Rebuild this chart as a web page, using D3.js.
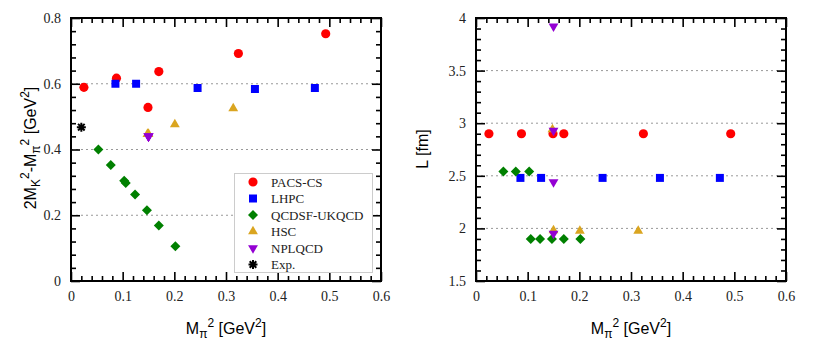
<!DOCTYPE html>
<html>
<head>
<meta charset="utf-8">
<script src="https://cdn.jsdelivr.net/npm/d3@7"></script>
<style>
  body { margin: 0; background: #fff; }
  svg { display: block; }
</style>
</head>
<body>
<div id="chart"></div>
<script>
// legend names and colours
let groups = ['PACS-CS', 'LHPC', 'QCDSF-UKQCD', 'HSC', 'NPLQCD', 'Exp.']
let colors = ['#ff0000', '#0000ff', '#008000', '#daa520', '#9400d3', '#000000']
let shapes = ['circle', 'square', 'diamond', 'triangle', 'tridown', 'star']

// M_pi^2 [GeV^2]
let pacsM2 = [0.025, 0.088, 0.149, 0.170, 0.324, 0.493]
let lhpcM2 = [0.086, 0.126, 0.245, 0.356, 0.472]
let qcdsfM2 = [0.053, 0.077, 0.103, 0.106, 0.124, 0.147, 0.170, 0.202]
let hscM2 = [0.148, 0.150, 0.201, 0.314]
let nplM2 = [0.150, 0.150, 0.150, 0.150]
let expM2 = [0.020]

// 2M_K^2 - M_pi^2 [GeV^2]
let pacsK = [0.589, 0.617, 0.528, 0.637, 0.692, 0.752]
let lhpcK = [0.600, 0.600, 0.587, 0.584, 0.587]
let qcdsfK = [0.400, 0.353, 0.305, 0.298, 0.263, 0.215, 0.169, 0.106]
let hscK = [0.447, 0.447, 0.476, 0.525]
let nplK = [0.440, 0.440, 0.440, 0.440]
let expK = [0.468]

// L [fm]
let pacsL = [2.90, 2.90, 2.90, 2.90, 2.90, 2.90]
let lhpcL = [2.48, 2.48, 2.48, 2.48, 2.48]
let qcdsfL = [2.54, 2.54, 2.54, 1.90, 1.90, 1.90, 1.90, 1.90]
let hscL = [2.94, 1.98, 1.975, 1.975]
let nplL = [3.92, 2.93, 2.44, 1.95]

let xTicks = [0, 0.1, 0.2, 0.3, 0.4, 0.5, 0.6]
let leftTicks = [0, 0.2, 0.4, 0.6, 0.8]
let rightTicks = [1.5, 2, 2.5, 3, 3.5, 4]

let serif = '"Liberation Serif", "Times New Roman", Times, serif'
let sans = '"Liberation Sans", Arial, Helvetica, sans-serif'

function zip(xs, ys){
	return xs.map(function(v, i){ return {x: v, y: ys[i]} })
}

let leftSeries = [
	zip(pacsM2, pacsK), zip(lhpcM2, lhpcK), zip(qcdsfM2, qcdsfK),
	zip(hscM2, hscK), zip(nplM2, nplK), zip(expM2, expK)
]
let rightSeries = [
	zip(pacsM2, pacsL), zip(lhpcM2, lhpcL), zip(qcdsfM2, qcdsfL),
	zip(hscM2, hscL), zip(nplM2, nplL), []
]

let svg = d3.select('#chart').append('svg')
	.attr('width', 817)
	.attr('height', 354)

function symbolPath(shape){
	if(shape == 'circle') return d3.symbol(d3.symbolCircle, 66)()
	if(shape == 'square') return d3.symbol(d3.symbolSquare, 64)()
	if(shape == 'diamond') return d3.symbol(d3.symbolSquare, 50)()
	if(shape == 'triangle' || shape == 'tridown') return d3.symbol(d3.symbolTriangle, 42)()
	// gnuplot style star: plus and cross
	let r = 4.5, d = 3.3
	return 'M' + (-r) + ',0L' + r + ',0M0,' + (-r) + 'L0,' + r +
		'M' + (-d) + ',' + (-d) + 'L' + d + ',' + d + 'M' + (-d) + ',' + d + 'L' + d + ',' + (-d)
}

function drawMarker(g, shape, color, px, py){
	let rot = 0
	if(shape == 'diamond') rot = 45
	if(shape == 'tridown') rot = 180
	let p = g.append('path')
		.attr('d', symbolPath(shape))
		.attr('transform', 'translate(' + px + ',' + py + ') rotate(' + rot + ')')
	if(shape == 'star'){
		p.attr('fill', 'none').attr('stroke', color).attr('stroke-width', 2)
	} else {
		p.attr('fill', color)
	}
}

function minorTicks(lo, hi, step, majors){
	return d3.range(lo, hi + step / 2, step).filter(function(v){
		return !majors.some(function(m){ return Math.abs(m - v) < 1e-6 })
	})
}

function drawPanel(cfg){
	let x = d3.scaleLinear().domain([0, 0.6]).range([cfg.left, cfg.right])
	let y = d3.scaleLinear().domain(cfg.yDomain).range([cfg.bottom, cfg.top])
	let g = svg.append('g')

	// dotted grid
	g.selectAll('.grid')
		.data(cfg.yTicks.filter(function(v){ return v > cfg.yDomain[0] && v < cfg.yDomain[1] }))
		.enter().append('line')
		.attr('x1', cfg.left).attr('x2', cfg.right)
		.attr('y1', function(d){ return y(d) }).attr('y2', function(d){ return y(d) })
		.attr('stroke', '#999')
		.attr('stroke-width', 1)
		.attr('stroke-dasharray', '2,3')

	let xMinor = minorTicks(0, 0.6, 0.02, xTicks)
	let yMinor = minorTicks(cfg.yDomain[0], cfg.yDomain[1], cfg.yMinorStep, cfg.yTicks)
	let fmt = d3.format('')

	let axes = [
		{a: d3.axisBottom(x).tickValues(xTicks).tickSize(-9).tickPadding(10).tickFormat(fmt), t: 'translate(0,' + cfg.bottom + ')'},
		{a: d3.axisBottom(x).tickValues(xMinor).tickSize(-5).tickFormat(''), t: 'translate(0,' + cfg.bottom + ')'},
		{a: d3.axisTop(x).tickValues(xTicks).tickSize(-9).tickFormat(''), t: 'translate(0,' + cfg.top + ')'},
		{a: d3.axisTop(x).tickValues(xMinor).tickSize(-5).tickFormat(''), t: 'translate(0,' + cfg.top + ')'},
		{a: d3.axisLeft(y).tickValues(cfg.yTicks).tickSize(-9).tickPadding(10).tickFormat(fmt), t: 'translate(' + cfg.left + ',0)'},
		{a: d3.axisLeft(y).tickValues(yMinor).tickSize(-5).tickFormat(''), t: 'translate(' + cfg.left + ',0)'},
		{a: d3.axisRight(y).tickValues(cfg.yTicks).tickSize(-9).tickFormat(''), t: 'translate(' + cfg.right + ',0)'},
		{a: d3.axisRight(y).tickValues(yMinor).tickSize(-5).tickFormat(''), t: 'translate(' + cfg.right + ',0)'}
	]
	axes.forEach(function(ax){
		let ag = g.append('g').attr('transform', ax.t).call(ax.a)
		ag.attr('font-family', null).attr('font-size', null)
		ag.select('.domain').remove()
		ag.selectAll('line').attr('stroke', '#000').attr('stroke-width', 1.6)
		ag.selectAll('text')
			.style('font-family', serif)
			.style('font-size', '14px')
			.attr('fill', '#222')
	})

	// frame
	g.append('rect')
		.attr('x', cfg.left).attr('y', cfg.top)
		.attr('width', cfg.right - cfg.left).attr('height', cfg.bottom - cfg.top)
		.attr('fill', 'none')
		.attr('stroke', '#000')
		.attr('stroke-width', 2)

	// points
	cfg.series.forEach(function(s, i){
		s.forEach(function(d){
			drawMarker(g, shapes[i], colors[i], x(d.x), y(d.y))
		})
	})

	// x label
	let xl = g.append('text')
		.attr('x', (cfg.left + cfg.right) / 2)
		.attr('y', 334)
		.attr('text-anchor', 'middle')
		.style('font-family', sans)
		.style('font-size', '16px')
	xl.append('tspan').text('M')
	xl.append('tspan').attr('dy', 4).attr('font-size', 12).text('\u03c0')
	xl.append('tspan').attr('dy', -11).attr('font-size', 12).text('2')
	xl.append('tspan').attr('dy', 7).text(' [GeV')
	xl.append('tspan').attr('dy', -7).attr('font-size', 12).text('2')
	xl.append('tspan').attr('dy', 7).text(']')

	// y label
	let yl = g.append('text')
		.attr('transform', 'translate(' + cfg.yLabelX + ',' + cfg.yLabelY + ') rotate(-90)')
		.attr('text-anchor', 'middle')
		.style('font-family', sans)
		.style('font-size', '16px')
	cfg.yLabel(yl)
}

drawPanel({
	left: 71, right: 381, top: 18, bottom: 281,
	yDomain: [0, 0.8], yTicks: leftTicks, yMinorStep: 0.04,
	series: leftSeries,
	yLabelX: 36, yLabelY: 148,
	yLabel: function(t){
		t.append('tspan').text('2M')
		t.append('tspan').attr('dy', 4).attr('font-size', 12).text('K')
		t.append('tspan').attr('dy', -11).attr('font-size', 12).text('2')
		t.append('tspan').attr('dy', 7).text('-M')
		t.append('tspan').attr('dy', 4).attr('font-size', 12).text('\u03c0')
		t.append('tspan').attr('dy', -11).attr('font-size', 12).text('2')
		t.append('tspan').attr('dy', 7).text(' [GeV')
		t.append('tspan').attr('dy', -7).attr('font-size', 12).text('2')
		t.append('tspan').attr('dy', 7).text(']')
	}
})

drawPanel({
	left: 476, right: 786, top: 18, bottom: 281,
	yDomain: [1.5, 4], yTicks: rightTicks, yMinorStep: 0.1,
	series: rightSeries,
	yLabelX: 428, yLabelY: 149,
	yLabel: function(t){
		t.text('L [fm]')
	}
})

// legend
let lg = svg.append('g')
lg.append('rect')
	.attr('x', 234.5).attr('y', 173.5)
	.attr('width', 138).attr('height', 99)
	.attr('fill', '#fff')
	.attr('stroke', '#ccc')
	.attr('stroke-width', 1)
groups.forEach(function(name, i){
	let cy = 182 + i * 16.5
	drawMarker(lg, shapes[i], colors[i], 253, cy)
	lg.append('text')
		.attr('x', 271).attr('y', cy)
		.attr('dy', '0.35em')
		.style('font-family', serif)
		.style('font-size', '13px')
		.attr('fill', '#222')
		.text(name)
})
</script>
</body>
</html>
